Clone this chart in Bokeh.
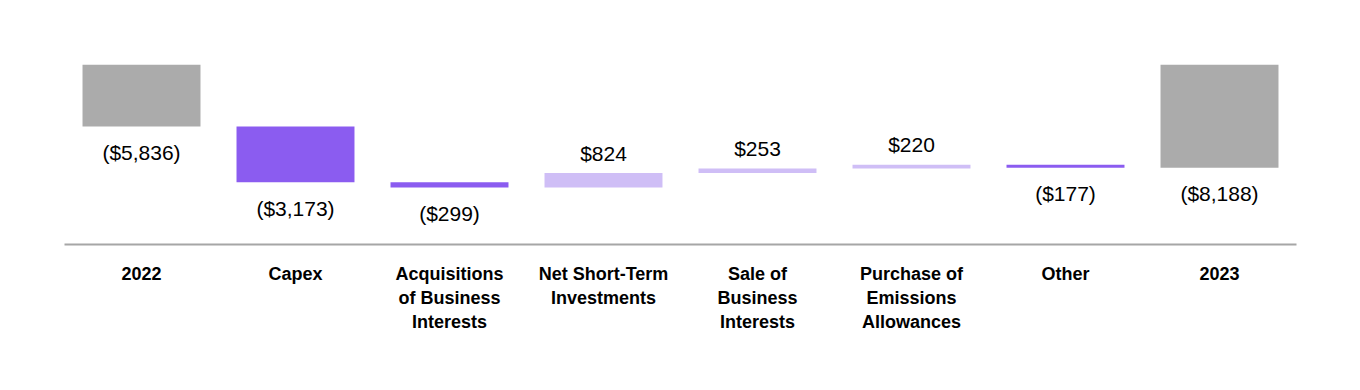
from bokeh.plotting import figure
from bokeh.models import ColumnDataSource, FactorRange, Range1d
from bokeh.core.properties import value
from bokeh.embed import file_html
from bokeh.resources import INLINE

categories = ["2022", "Capex", "Acquisitions\nof Business\nInterests",
              "Net Short-Term\nInvestments", "Sale of\nBusiness\nInterests",
              "Purchase of\nEmissions\nAllowances", "Other", "2023"]
values = [-5836, -3173, -299, 824, 253, 220, -177, -8188]
is_total = [True, False, False, False, False, False, False, True]
labels = ["($5,836)", "($3,173)", "($299)", "$824", "$253", "$220", "($177)", "($8,188)"]

GRAY = "#ABABAB"
PURPLE = "#8B5CF0"
LAVENDER = "#CFBEF6"

tops, bottoms, colors = [], [], []
running = 0
for v, tot in zip(values, is_total):
    if tot:
        start, end = 0, v
        running = v
        colors.append(GRAY)
    else:
        start, end = running, running + v
        running = end
        colors.append(PURPLE if v < 0 else LAVENDER)
    tops.append(max(start, end))
    bottoms.append(min(start, end))

src = ColumnDataSource(dict(x=categories, top=tops, bottom=bottoms, color=colors))

neg = [i for i, v in enumerate(values) if v < 0]
pos = [i for i, v in enumerate(values) if v >= 0]
neg_src = ColumnDataSource(dict(x=[categories[i] for i in neg], y=[bottoms[i] for i in neg],
                                t=[labels[i] for i in neg]))
pos_src = ColumnDataSource(dict(x=[categories[i] for i in pos], y=[tops[i] for i in pos],
                                t=[labels[i] for i in pos]))

p = figure(x_range=FactorRange(*categories), y_range=Range1d(-12550, -2305),
           width=1344, height=372, output_backend="svg", toolbar_location=None,
           min_border_left=64, min_border_right=48, min_border_top=64, min_border_bottom=128)

p.vbar(x="x", top="top", bottom="bottom", width=0.766, color="color", line_color=None, source=src)

p.text(x="x", y="y", text="t", source=neg_src, text_align="center", text_baseline="middle",
       y_offset=26, text_font=value("Liberation Sans"), text_font_size="21px", text_color="#000000")
p.text(x="x", y="y", text="t", source=pos_src, text_align="center", text_baseline="middle",
       y_offset=-20, text_font=value("Liberation Sans"), text_font_size="21px", text_color="#000000")

p.outline_line_color = None
p.grid.visible = False
p.yaxis.visible = False
xa = p.xaxis[0]
xa.axis_line_color = "#A6A6A6"
xa.axis_line_width = 2
xa.major_tick_line_color = None
xa.minor_tick_line_color = None
xa.major_label_standoff = 13
xa.major_label_text_font = "Liberation Sans"
xa.major_label_text_font_style = "bold"
xa.major_label_text_font_size = "18px"
xa.major_label_text_color = "#000000"
xa.major_label_orientation = "horizontal"

open("out.html", "w").write(file_html(p, INLINE))
